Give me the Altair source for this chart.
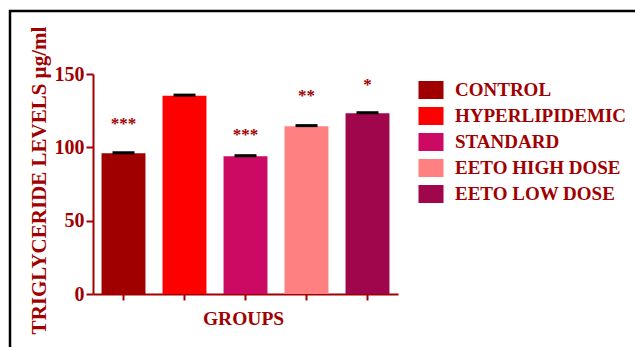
import altair as alt
import pandas as pd

# Triglyceride levels per treatment group (mean ± SEM, µg/ml)
groups = ["CONTROL", "HYPERLIPIDEMIC", "STANDARD", "EETO HIGH DOSE", "EETO LOW DOSE"]
means = [95.9, 135.2, 93.9, 114.3, 123.2]
sems = [0.4, 0.4, 0.4, 0.5, 0.4]
colors = ["#A00000", "#FF0000", "#CC0A64", "#FF8080", "#A0064B"]

# Significance markers and the height (in µg/ml) at which each is written
stars = ["***", "", "***", "**", "*"]
star_y = [117.5, 0, 109.5, 136.5, 143.6]

y_ticks = [0, 50, 100, 150]

FONT = "Liberation Serif"
RED = "#A00000"

df = pd.DataFrame({"group": groups, "mean": means, "sem": sems})
df["upper"] = df["mean"] + df["sem"]
sig = pd.DataFrame({"group": groups, "star": stars, "y": star_y})
sig = sig[sig["star"] != ""]

x_enc = alt.X(
    "group:N",
    sort=groups,
    scale=alt.Scale(paddingInner=0.28, paddingOuter=0.14),
    axis=alt.Axis(
        title="GROUPS",
        labels=False,
        ticks=True,
        tickSize=6,
        tickWidth=2,
        tickColor=RED,
        domainColor=RED,
        domainWidth=2,
        titleFont=FONT,
        titleFontSize=19.5,
        titleFontWeight="bold",
        titleColor=RED,
        titleX=150,
        titleY=30,
        titleBaseline="alphabetic",
        titleAlign="center",
    ),
)

y_scale = alt.Scale(domain=[0, 150], nice=False, zero=True)

bars = alt.Chart(df).mark_bar().encode(
    x=x_enc,
    y=alt.Y(
        "mean:Q",
        scale=y_scale,
        axis=alt.Axis(
            title="TRIGLYCERIDE LEVELS µg/ml",
            values=y_ticks,
            grid=False,
            tickSize=7,
            tickWidth=2,
            tickColor=RED,
            domainColor=RED,
            domainWidth=2,
            labelPadding=2,
            labelFont=FONT,
            labelFontSize=20,
            labelFontWeight="bold",
            labelColor=RED,
            titleFont=FONT,
            titleFontSize=21,
            titleFontWeight="bold",
            titleColor=RED,
            titleAngle=270,
            titleX=-48,
            titleY=106,
            titleAlign="center",
            titleBaseline="alphabetic",
        ),
    ),
    color=alt.Color(
        "group:N",
        sort=groups,
        scale=alt.Scale(domain=groups, range=colors),
        legend=alt.Legend(title=None),
    ),
)

caps = alt.Chart(df).mark_tick(color="black", size=22, thickness=3, opacity=1).encode(
    x=alt.X("group:N", sort=groups),
    y=alt.Y("upper:Q", scale=y_scale),
)

labels = alt.Chart(sig).mark_text(
    font=FONT, fontSize=17, fontWeight="bold", color=RED, baseline="middle", dy=2
).encode(
    x=alt.X("group:N", sort=groups),
    y=alt.Y("y:Q", scale=y_scale),
    text="star:N",
)

# Outer frame around the figure (left and top edges visible)
frame = alt.Chart(pd.DataFrame({"k": [0]})).mark_rect(
    fill=None, stroke="black", strokeWidth=2.5
).encode(
    x=alt.value(-83),
    x2=alt.value(560),
    y=alt.value(-63),
    y2=alt.value(290),
)

chart = (
    alt.layer(frame, bars, caps, labels)
    .properties(
        width=305,
        height=220,
        padding={"left": 93, "top": 74, "right": 237, "bottom": 53},
        autosize=alt.AutoSizeParams(type="none"),
        background="white",
    )
    .configure_view(stroke=None)
    .configure_legend(
        orient="none",
        legendX=328.5,
        legendY=6.5,
        padding=0,
        symbolType="M-1.39,-1L1.39,-1L1.39,1L-1.39,1Z",
        symbolSize=324,
        symbolStrokeWidth=0,
        symbolOpacity=1,
        labelFont=FONT,
        labelFontSize=19,
        labelFontWeight="bold",
        labelColor=RED,
        labelOffset=14.5,
        rowPadding=6,
        labelLimit=300,
    )
)

chart.save("out.html", embed_options={"renderer": "svg", "actions": False})
